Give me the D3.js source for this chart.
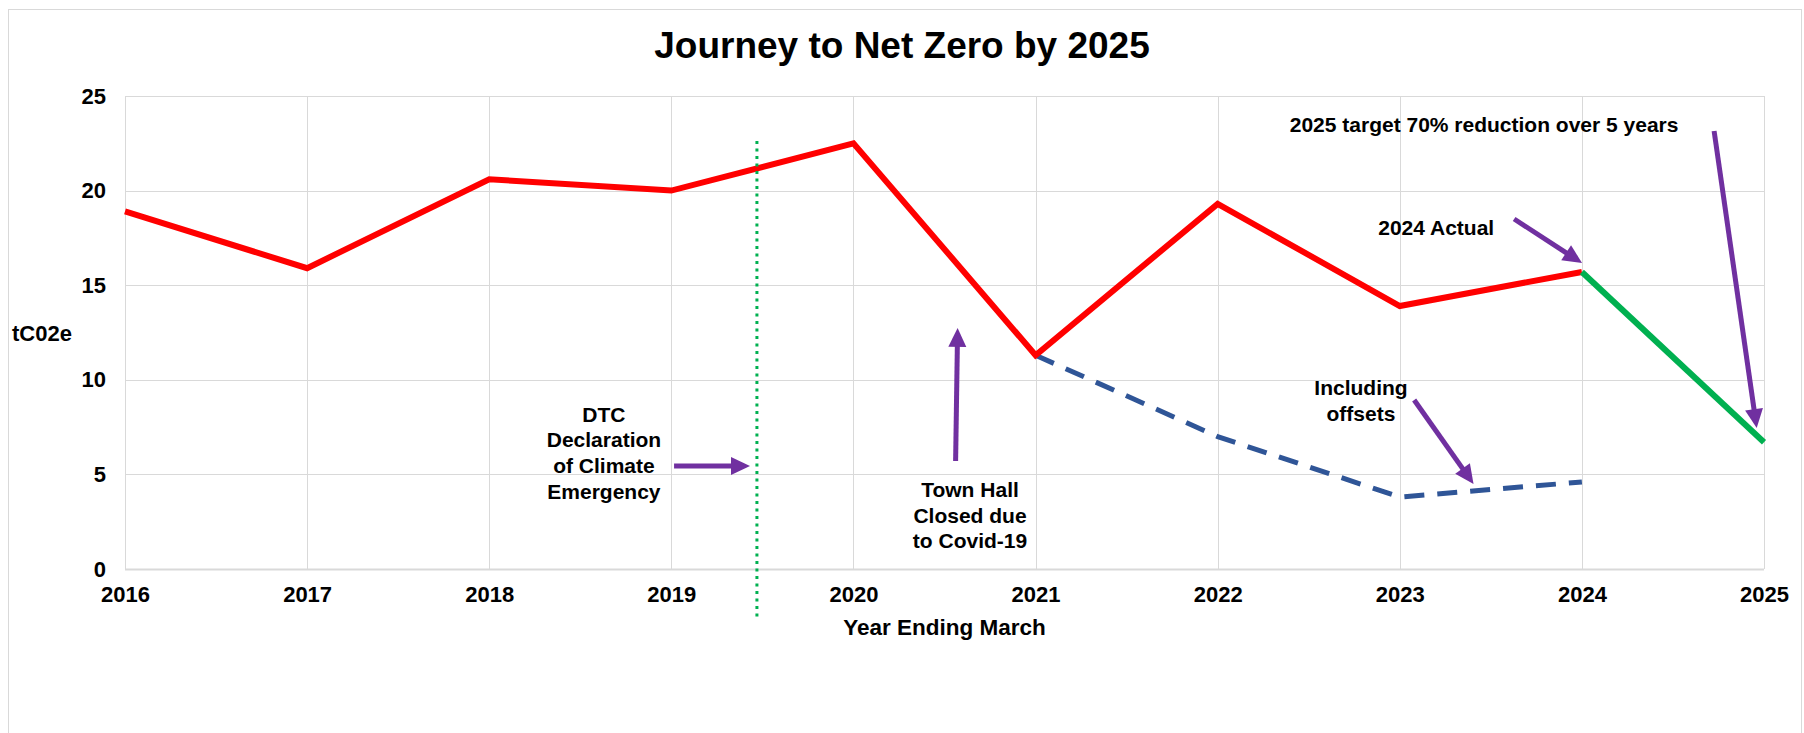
<!DOCTYPE html>
<html>
<head>
<meta charset="utf-8">
<script src="https://cdn.jsdelivr.net/npm/d3@7"></script>
<style>
  html, body { margin: 0; padding: 0; background: #ffffff; }
  svg { display: block; }
  text { font-family: "Liberation Sans", Arial, sans-serif; font-weight: bold; fill: #000; }
</style>
</head>
<body>
<svg id="chart" width="1804" height="733"></svg>
<script>
// ---- data ----
const title = "Journey to Net Zero by 2025";
const years = [2016, 2017, 2018, 2019, 2020, 2021, 2022, 2023, 2024, 2025];
const yTicks = [0, 5, 10, 15, 20, 25];
const actualYears = [2016, 2017, 2018, 2019, 2020, 2021, 2022, 2023, 2024];
const actualValues = [18.9, 15.9, 20.6, 20.0, 22.5, 11.3, 19.3, 13.9, 15.7];
const targetYears = [2024, 2025];
const targetValues = [15.7, 6.7];
const offsetYears = [2021, 2022, 2023, 2024];
const offsetValues = [11.3, 7.0, 3.8, 4.6];
const declarationYear = 2019.47;
const xTitle = "Year Ending March";
const yTitle = "tC02e";

// annotation texts (anchor in data units: year, value of first baseline)
const noteTexts = [
  ["DTC", "Declaration", "of Climate", "Emergency"],
  ["Town Hall", "Closed due", "to Covid-19"],
  ["2024 Actual"],
  ["2025 target 70% reduction over 5 years"],
  ["Including", "offsets"]
];
const noteX = [2018.63, 2020.64, 2023.2, 2023.463, 2022.787];
const noteY = [7.79, 3.82, 17.65, 23.11, 9.2];

// arrows (tail -> tip) in data units
const arrowX0 = [2019.015, 2020.561, 2023.628, 2024.726, 2023.079];
const arrowY0 = [5.44, 5.71, 18.5, 23.15, 8.93];
const arrowX1 = [2019.432, 2020.572, 2024.001, 2024.96, 2023.405];
const arrowY1 = [5.44, 12.74, 16.17, 7.45, 4.49];

// ---- layout ----
const svg = d3.select("#chart");
const mLeft = 125, mRight = 1764, mTop = 96, mBottom = 569;

const x = d3.scaleLinear().domain([2016, 2025]).range([mLeft, mRight]);
const y = d3.scaleLinear().domain([0, 25]).range([mBottom, mTop]);

// outer frame
svg.append("rect")
  .attr("x", 8.5).attr("y", 9.5)
  .attr("width", 1793).attr("height", 740)
  .attr("fill", "#fff").attr("stroke", "#d9d9d9").attr("stroke-width", 1);

// title
svg.append("text")
  .attr("x", 902).attr("y", 58)
  .attr("text-anchor", "middle")
  .style("font-size", "37px")
  .text(title);

// gridlines
const grid = svg.append("g");
grid.selectAll("line.h").data(yTicks).join("line")
  .attr("x1", mLeft).attr("x2", mRight)
  .attr("y1", d => Math.round(y(d)) + 0.5).attr("y2", d => Math.round(y(d)) + 0.5)
  .attr("stroke", "#d9d9d9").attr("stroke-width", d => d === 0 ? 2 : 1);
grid.selectAll("line.v").data(years).join("line")
  .attr("x1", d => Math.round(x(d)) + 0.5).attr("x2", d => Math.round(x(d)) + 0.5)
  .attr("y1", mTop).attr("y2", mBottom)
  .attr("stroke", "#d9d9d9").attr("stroke-width", 1);

// axes
const yAxis = d3.axisLeft(y).tickValues(yTicks).tickSize(0).tickPadding(19);
const gy = svg.append("g").attr("transform", `translate(${mLeft},0)`).call(yAxis);
gy.select(".domain").remove();
gy.selectAll("text").style("font-size", "22px").style("font-family", "'Liberation Sans', Arial, sans-serif").style("font-weight", "bold").attr("fill", "#000");

const xAxis = d3.axisBottom(x).tickValues(years).tickFormat(d3.format("d")).tickSize(0).tickPadding(17);
const gx = svg.append("g").attr("transform", `translate(0,${mBottom})`).call(xAxis);
gx.select(".domain").remove();
gx.selectAll("text").style("font-size", "22px").style("font-family", "'Liberation Sans', Arial, sans-serif").style("font-weight", "bold").attr("fill", "#000");

// axis titles
svg.append("text").attr("x", (mLeft + mRight) / 2).attr("y", 635)
  .attr("text-anchor", "middle").style("font-size", "22.5px").text(xTitle);
svg.append("text").attr("x", 12).attr("y", 341)
  .style("font-size", "22px").text(yTitle);

// lines
const line = d3.line().x(d => x(d[0])).y(d => y(d[1]));

svg.append("path")
  .datum(offsetYears.map((d, i) => [d, offsetValues[i]]))
  .attr("d", line).attr("fill", "none")
  .attr("stroke", "#2F5597").attr("stroke-width", 5)
  .attr("stroke-dasharray", "20,13");

svg.append("path")
  .datum(actualYears.map((d, i) => [d, actualValues[i]]))
  .attr("d", line).attr("fill", "none")
  .attr("stroke", "#FF0000").attr("stroke-width", 6)
  .attr("stroke-linejoin", "miter");

svg.append("path")
  .datum(targetYears.map((d, i) => [d, targetValues[i]]))
  .attr("d", line).attr("fill", "none")
  .attr("stroke", "#00B050").attr("stroke-width", 6);

// declaration dotted line
svg.append("line")
  .attr("x1", x(declarationYear)).attr("x2", x(declarationYear))
  .attr("y1", 141).attr("y2", 619)
  .attr("stroke", "#00B050").attr("stroke-width", 3)
  .attr("stroke-dasharray", "3,4.5");

// arrows
const purple = "#7030A0";
const headLen = 19, headHalf = 9;
arrowX0.forEach((_, i) => {
  const x0 = x(arrowX0[i]), y0 = y(arrowY0[i]);
  const x1 = x(arrowX1[i]), y1 = y(arrowY1[i]);
  const dx = x1 - x0, dy = y1 - y0;
  const len = Math.hypot(dx, dy);
  const ux = dx / len, uy = dy / len;
  const bx = x1 - ux * headLen, by = y1 - uy * headLen;
  svg.append("line")
    .attr("x1", x0).attr("y1", y0).attr("x2", bx + ux * 2).attr("y2", by + uy * 2)
    .attr("stroke", purple).attr("stroke-width", 5);
  svg.append("path")
    .attr("d", `M${x1},${y1} L${bx - uy * headHalf},${by + ux * headHalf} L${bx + uy * headHalf},${by - ux * headHalf} Z`)
    .attr("fill", purple);
});

// annotation texts
const lineH = 25.8;
noteTexts.forEach((lines, i) => {
  const t = svg.append("text")
    .attr("x", x(noteX[i])).attr("y", y(noteY[i]))
    .attr("text-anchor", "middle")
    .style("font-size", "21px");
  lines.forEach((s, j) => {
    t.append("tspan").attr("x", x(noteX[i])).attr("dy", j === 0 ? 0 : lineH).text(s);
  });
});
</script>
</body>
</html>
